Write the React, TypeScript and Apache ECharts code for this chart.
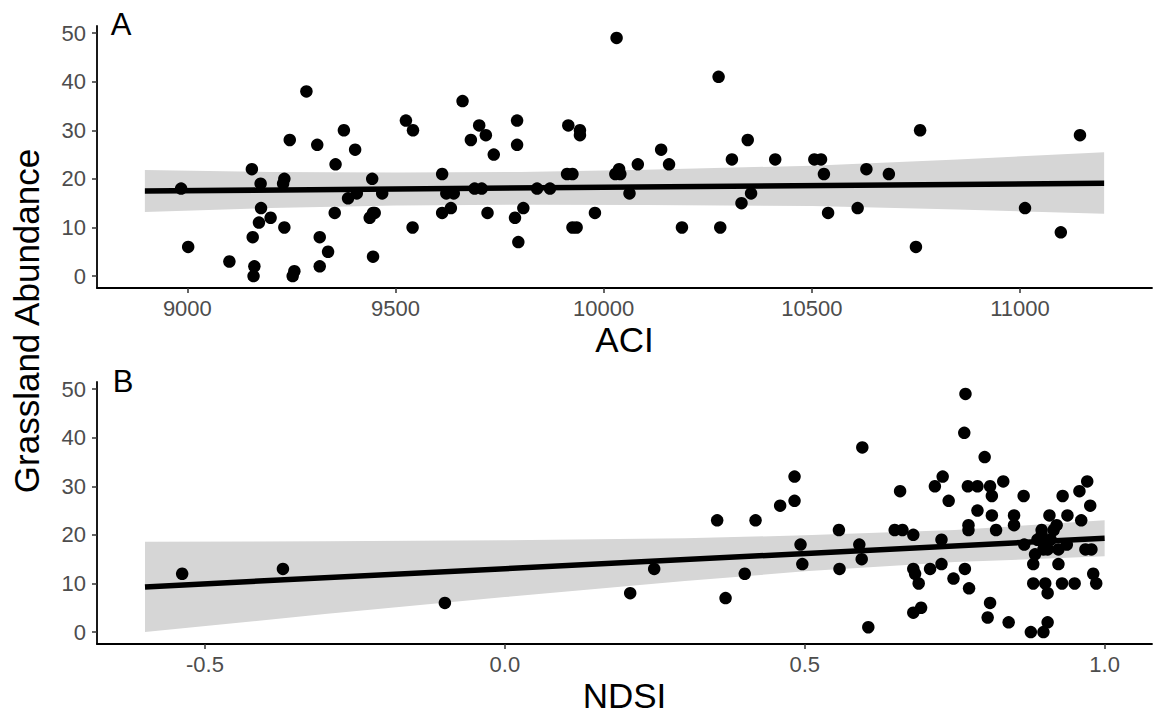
import React, { useEffect, useRef } from "react";
import * as echarts from "echarts";

// Panel A: ACI vs grassland abundance
const aciX = [8985, 9002, 9101, 9155, 9157, 9161, 9159, 9176, 9177, 9172, 9200, 9233, 9230, 9246, 9233, 9257, 9253, 9286, 9312, 9318, 9318, 9338, 9376, 9356, 9354, 9403, 9386, 9407, 9444, 9438, 9450, 9446, 9446, 9468, 9525, 9542, 9541, 9612, 9622, 9640, 9612, 9633, 9661, 9681, 9701, 9717, 9690, 9707, 9721, 9736, 9792, 9792, 9787, 9807, 9795, 9840, 9871, 9915, 9943, 9943, 9912, 9925, 9925, 9935, 9979, 10031, 10037, 10028, 10040, 10062, 10082, 10138, 10157, 10188, 10276, 10280, 10308, 10346, 10354, 10331, 10412, 10506, 10522, 10529, 10539, 10610, 10631, 10685, 10760, 10750, 11012, 11098, 11144];
const aciY = [18, 6, 3, 22, 8, 2, 0, 19, 14, 11, 12, 20, 19, 28, 10, 1, 0, 38, 27, 8, 2, 5, 30, 23, 13, 26, 16, 17, 20, 12, 13, 13, 4, 17, 32, 30, 10, 21, 17, 17, 13, 14, 36, 28, 31, 29, 18, 18, 13, 25, 32, 27, 12, 14, 7, 18, 18, 31, 30, 29, 21, 21, 10, 10, 13, 49, 22, 21, 21, 17, 23, 26, 23, 10, 41, 10, 24, 28, 17, 15, 24, 24, 24, 21, 13, 14, 22, 21, 30, 6, 14, 9, 29];
const aciFitX = [8898, 11202];
const aciFitY = [17.5, 19.1];
const aciBandX = [8898, 9200, 9500, 9800, 10100, 10500, 10850, 11202];
const aciBandLo = [13.2, 14.0, 14.5, 14.7, 14.6, 14.4, 13.7, 12.8];
const aciBandHi = [21.8, 21.4, 21.3, 21.4, 21.9, 22.7, 24.0, 25.5];
const aciTicks = [9000, 9500, 10000, 10500, 11000];

// Panel B: NDSI vs grassland abundance
const ndsiX = [-0.538, -0.37, -0.1, 0.209, 0.249, 0.354, 0.368, 0.4, 0.418, 0.459, 0.483, 0.483, 0.493, 0.496, 0.557, 0.558, 0.596, 0.591, 0.595, 0.606, 0.65, 0.663, 0.659, 0.681, 0.681, 0.684, 0.69, 0.681, 0.694, 0.709, 0.717, 0.73, 0.74, 0.728, 0.728, 0.748, 0.768, 0.766, 0.772, 0.788, 0.773, 0.773, 0.767, 0.774, 0.8, 0.788, 0.809, 0.812, 0.812, 0.819, 0.831, 0.809, 0.805, 0.84, 0.849, 0.849, 0.865, 0.866, 0.877, 0.898, 0.905, 0.881, 0.901, 0.905, 0.881, 0.884, 0.895, 0.888, 0.895, 0.902, 0.91, 0.915, 0.905, 0.898, 0.908, 0.92, 0.923, 0.923, 0.929, 0.95, 0.93, 0.938, 0.937, 0.958, 0.971, 0.961, 0.976, 0.968, 0.978, 0.981, 0.986];
const ndsiY = [12, 13, 6, 8, 13, 23, 7, 12, 23, 26, 32, 27, 18, 14, 21, 13, 38, 18, 15, 1, 21, 21, 29, 20, 13, 12, 10, 4, 5, 13, 30, 32, 27, 19, 14, 11, 49, 41, 30, 30, 22, 21, 13, 9, 36, 25, 30, 28, 24, 21, 31, 6, 3, 2, 24, 22, 28, 18, 0, 0, 2, 10, 10, 8, 14, 16, 21, 19, 20, 18, 19, 21, 17, 17, 24, 22, 17, 14, 10, 10, 28, 24, 18, 29, 31, 23, 26, 17, 17, 12, 10];
const ndsiFitX = [-0.6, 1.0];
const ndsiFitY = [9.3, 19.3];
const ndsiBandX = [-0.6, -0.3, 0.0, 0.3, 0.5, 0.75, 1.0];
const ndsiBandLo = [0.0, 3.7, 7.2, 10.5, 12.5, 14.4, 15.6];
const ndsiBandHi = [18.6, 18.7, 18.9, 19.3, 19.9, 21.0, 23.0];
const ndsiTicks = [-0.5, 0.0, 0.5, 1.0];

const yTicks = [0, 10, 20, 30, 40, 50];

const FONT = "'Liberation Sans', Arial, Helvetica, sans-serif";

function bandSeries(idx: number, bx: number[], lo: number[], hi: number[]) {
  return {
    type: "custom",
    xAxisIndex: idx,
    yAxisIndex: idx,
    silent: true,
    z: 1,
    data: [[bx[0], lo[0]]],
    renderItem: (_params: any, api: any) => {
      const pts: number[][] = [];
      for (let i = 0; i < bx.length; i++) pts.push(api.coord([bx[i], hi[i]]));
      for (let i = bx.length - 1; i >= 0; i--) pts.push(api.coord([bx[i], lo[i]]));
      return { type: "polygon", shape: { points: pts }, style: { fill: "#d6d6d6", stroke: null } };
    },
  };
}

function xAxisCfg(idx: number, min: number, max: number, ticks: number[], name: string, fmt: (v: number) => string) {
  return {
    type: "value",
    gridIndex: idx,
    min,
    max,
    name,
    nameLocation: "middle",
    nameGap: 51,
    nameTextStyle: { fontSize: 35, color: "#000", fontFamily: FONT, verticalAlign: "middle" },
    axisLine: { show: true, onZero: false, lineStyle: { color: "#000", width: 1.8 } },
    axisTick: { show: true, length: 5, customValues: ticks, lineStyle: { color: "#333", width: 1.5 } },
    axisLabel: { customValues: ticks, fontSize: 22, color: "#4d4d4d", margin: 9, fontFamily: FONT, formatter: fmt },
    splitLine: { show: false },
  };
}

function yAxisCfg(idx: number) {
  return {
    type: "value",
    gridIndex: idx,
    min: -2.45,
    max: 51.45,
    axisLine: { show: true, onZero: false, lineStyle: { color: "#000", width: 1.8 } },
    axisTick: { show: true, length: 5, customValues: yTicks, lineStyle: { color: "#333", width: 1.5 } },
    axisLabel: { customValues: yTicks, fontSize: 22, color: "#4d4d4d", margin: 11, fontFamily: FONT },
    splitLine: { show: false },
  };
}

export default function App() {
  const ref = useRef<HTMLDivElement>(null);
  useEffect(() => {
    if (!ref.current) return;
    const chart = echarts.init(ref.current, null, { renderer: "svg" });
    const zip = (xs: number[], ys: number[]) => xs.map((x, i) => [x, ys[i]]);
    chart.setOption({
      animation: false,
      backgroundColor: "#fff",
      textStyle: { fontFamily: FONT },
      grid: [
        { left: 97, right: 3, top: 26, bottom: 427 },
        { left: 97, right: 3, top: 382, bottom: 71 },
      ],
      xAxis: [
        xAxisCfg(0, 8783, 11317, aciTicks, "ACI", (v: number) => String(v)),
        xAxisCfg(1, -0.68, 1.079, ndsiTicks, "NDSI", (v: number) => v.toFixed(1)),
      ],
      yAxis: [yAxisCfg(0), yAxisCfg(1)],
      graphic: [
        {
          type: "text",
          x: 26,
          y: 321,
          rotation: Math.PI / 2,
          style: { text: "Grassland Abundance", fontSize: 35, fill: "#000", fontFamily: FONT, align: "center", verticalAlign: "middle" },
        },
        { type: "text", x: 121, y: 24, style: { text: "A", fontSize: 31, fill: "#000", fontFamily: FONT, align: "center", verticalAlign: "middle" } },
        { type: "text", x: 123, y: 381, style: { text: "B", fontSize: 31, fill: "#000", fontFamily: FONT, align: "center", verticalAlign: "middle" } },
      ],
      series: [
        bandSeries(0, aciBandX, aciBandLo, aciBandHi),
        {
          type: "line",
          xAxisIndex: 0,
          yAxisIndex: 0,
          data: zip(aciFitX, aciFitY),
          symbol: "none",
          z: 2,
          lineStyle: { color: "#000", width: 5.5 },
        },
        {
          type: "scatter",
          xAxisIndex: 0,
          yAxisIndex: 0,
          data: zip(aciX, aciY),
          symbolSize: 12.5,
          z: 3,
          itemStyle: { color: "#000", opacity: 1 },
        },
        bandSeries(1, ndsiBandX, ndsiBandLo, ndsiBandHi),
        {
          type: "line",
          xAxisIndex: 1,
          yAxisIndex: 1,
          data: zip(ndsiFitX, ndsiFitY),
          symbol: "none",
          z: 2,
          lineStyle: { color: "#000", width: 5.5 },
        },
        {
          type: "scatter",
          xAxisIndex: 1,
          yAxisIndex: 1,
          data: zip(ndsiX, ndsiY),
          symbolSize: 12.5,
          z: 3,
          itemStyle: { color: "#000", opacity: 1 },
        },
      ],
    });
    return () => chart.dispose();
  }, []);
  return <div ref={ref} style={{ position: "absolute", left: 0, top: 0, width: 1155, height: 715 }} />;
}
